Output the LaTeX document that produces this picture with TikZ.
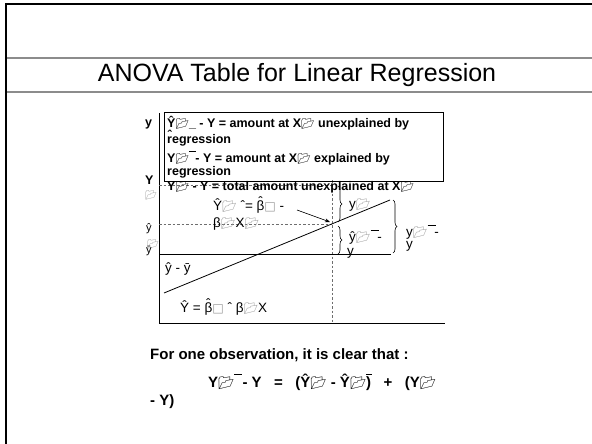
\documentclass[tikz,border=0pt]{standalone}
\usepackage{fontspec}
\usepackage{graphicx}
\setmainfont{Liberation Sans}
\newfontfamily\emojifont{Noto Emoji}
\newfontfamily\symfont{DejaVu Sans}
\usetikzlibrary{arrows.meta, positioning, calc, decorations.pathreplacing}
\definecolor{rulegray}{HTML}{8C8C8C}
\definecolor{foldgray}{HTML}{9A9A9A}
\definecolor{dashgray}{HTML}{6E6E6E}
% broken subscript glyphs of the slide
\newcommand{\fold}{{\emojifont\scalebox{0.85}{📂}}}
\newcommand{\gfold}{{\color{foldgray}\fold}}
\newcommand{\gsq}{{\color{foldgray}\symfont\scalebox{0.9}{□}}}
% stray bar and hat marks
\newcommand{\ovb}[1]{\rlap{\raisebox{1.55ex}{\rule{#1}{0.6pt}}}}
\newcommand{\hatop}[1]{\ooalign{#1\cr\hidewidth\raisebox{0.62ex}{ˆ}\hidewidth\cr}}
\tikzset{
  boxtext/.style={anchor=west, font=\fontsize{12.5}{13}\selectfont\bfseries, inner sep=0pt},
  plottext/.style={anchor=west, font=\fontsize{11}{12}\selectfont, inner sep=0pt},
  bigplot/.style={plottext, font=\fontsize{13.5}{14}\selectfont},
  saytext/.style={boxtext, font=\fontsize{15}{16}\selectfont\bfseries},
  bigbrace/.style={decorate, decoration={brace, amplitude=4pt}, line width=0.6pt},
  guide/.style={dashed, dash pattern=on 2.5pt off 2pt, draw=dashgray, line width=0.8pt}
}

\begin{document}
\begin{tikzpicture}[x=1pt, y=-1pt]
  \fill[white] (0,0) rectangle (592,444);
  \useasboundingbox (0,0) rectangle (592,444);

  % slide frame
  \draw[line width=2.5pt] (6,444) -- (6,4) -- (592,4);
  \draw[rulegray, line width=1.4pt] (7,58) -- (592,58);
  \draw[rulegray, line width=1.4pt] (7,92) -- (592,92);
  \node[font=\fontsize{25}{26}\selectfont] (title) at (297,75) {ANOVA Table for Linear Regression};

  % axes
  \coordinate (origin) at (159,323);
  \draw[line width=0.8pt] (159,113) -- (origin) -- (445,323);

  % guide lines for the observation
  \draw[guide] (159,185) -- (332,185);
  \draw[guide] (159,224) -- (332,224);
  \draw[guide] (332,180) -- (332,323);
  \draw[line width=0.8pt] (159,254) -- (391,254);

  % fitted line
  \coordinate (lstart) at (164,293);
  \coordinate (lend) at (390,200);
  \draw[line width=0.8pt] (lstart) -- (lend);

  % legend box
  \draw[line width=0.8pt] (164,112) rectangle (443,181);
  \node[boxtext] (l1) at (167,123) {Ŷ\fold\_ - Y = amount at X\fold{} unexplained by};
  \node[boxtext] (l2) at (167,140) {\hatop{r}egression};
  \node[boxtext] (l3) at (167,158) {Y\fold\ovb{7pt}\hspace{3pt} - Y = amount at X\fold{} explained by};
  \node[boxtext] (l4) at (167,172) {regression};
  \node[boxtext] (l5) at (167,187) {Y\fold{} - Y = total amount unexplained at X\fold};

  % axis labels
  \node[boxtext] (ytop) at (145,124) {y};
  \node[boxtext] (yobs) at (145,180) {Y};
  \node[plottext] (yobsf) at (145,195) {\gfold};
  \node[plottext] (yhat) at (146,229) {ŷ};
  \node[plottext] (ybarf) at (147,244) {\gfold};
  \node[plottext] (ybar) at (146,251) {ȳ};

  % plot labels
  \node[bigplot] (fit) at (213,206) {Ŷ\gfold{} ˆ= \hatop{β}\gsq{} -};
  \node[bigplot] (fit2) at (213,224) {β\gfold X\gfold};
  \node[bigplot] (diff) at (165,269) {ŷ - ȳ};
  \node[bigplot] (eqn) at (180,308) {Ŷ = \hatop{β}\gsq{} ˆ β\gfold X};

  % pointer to the fitted value
  \coordinate (ptr) at (297,210);
  \coordinate (hit) at (330,222);
  \draw[-{Stealth[length=5pt]}, line width=0.6pt] (ptr) -- (hit);

  % braces on the right
  \draw[bigbrace] (338,186) -- (338,222);
  \draw[bigbrace] (338,226) -- (338,254);
  \draw[bigbrace] (393,200) -- (393,253);
  \node[bigplot] (res) at (349,205) {y\gfold};
  \node[bigplot] (reg) at (349,237) {ŷ\gfold\ovb{8pt}\hspace{3pt} -};
  \node[bigplot] (regy) at (347,253) {y};
  \node[bigplot] (tot) at (406,232) {y\gfold\ovb{8pt}\hspace{3pt} -};
  \node[bigplot] (toty) at (406,246) {y};

  % closing remark
  \node[saytext] (rem) at (150,355) {For one observation, it is clear that :};
  \node[saytext] (sum) at (208,382)
    {Y\fold\ovb{8pt}\hspace{4pt} - Y \ \ = \ \ (Ŷ\fold{} - Ŷ\fold\ovb{6pt})\ \ \ + \ \ (Y\fold};
  \node[saytext] (sum2) at (150,402) {- Y)};
\end{tikzpicture}
\end{document}
